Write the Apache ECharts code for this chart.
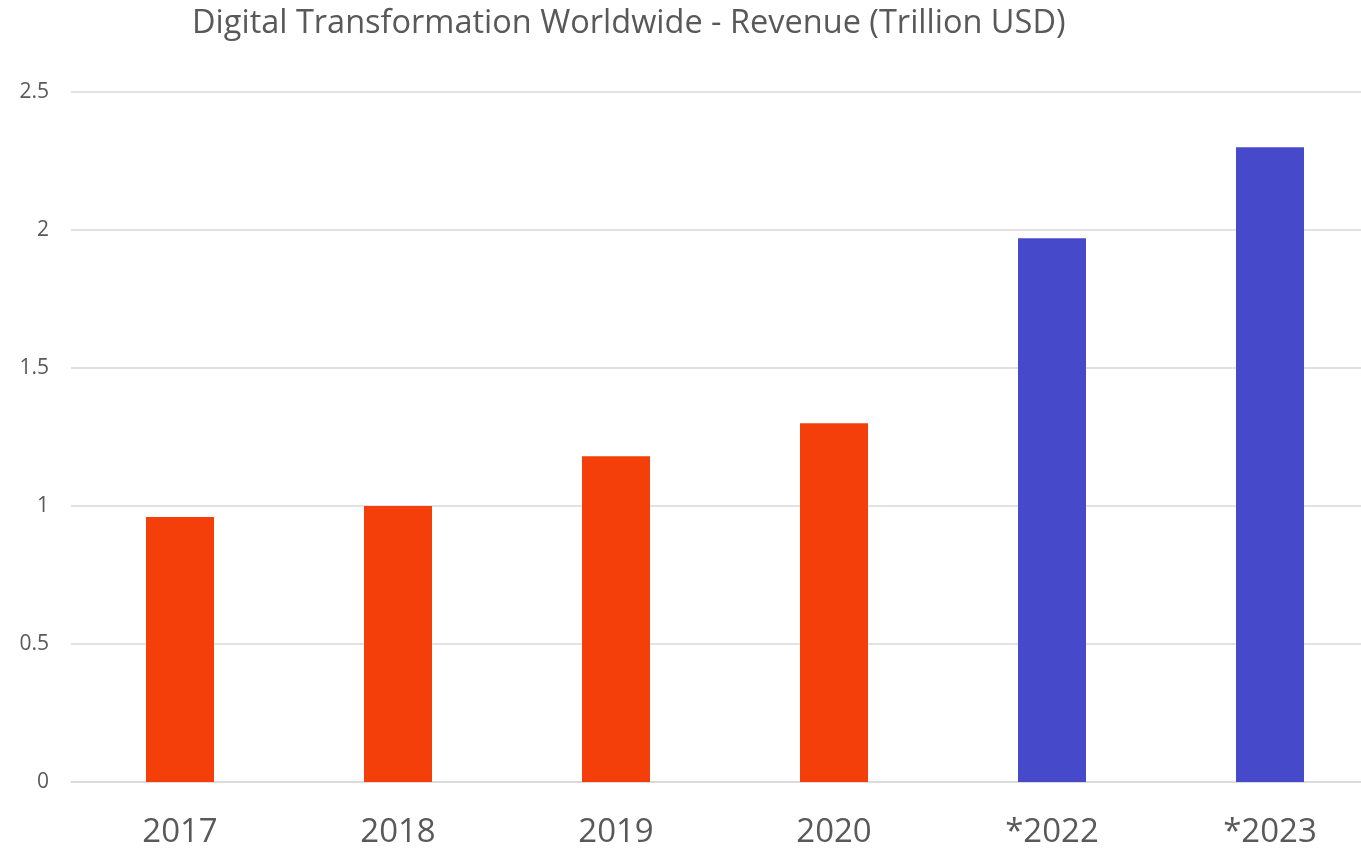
<!DOCTYPE html>
<html>
<head>
<meta charset="utf-8">
<script src="https://cdn.jsdelivr.net/npm/echarts@6/dist/echarts.min.js"></script>
<style>
  html, body { margin: 0; padding: 0; background: #fff; }
  #main { width: 1361px; height: 849px; }
</style>
</head>
<body>
<div id="main"></div>
<script>
// data
var years = ['2017', '2018', '2019', '2020', '*2022', '*2023'];
var revenue = [0.96, 1.0, 1.18, 1.30, 1.97, 2.30];

var chart = echarts.init(document.getElementById('main'));

var option = {
  backgroundColor: '#ffffff',
  title: {
    text: 'Digital Transformation Worldwide - Revenue (Trillion USD)',
    left: 187,
    top: 2,
    textStyle: {
      color: '#595959',
      fontFamily: 'Open Sans',
      fontWeight: 'normal',
      fontSize: 32.5
    }
  },
  grid: {
    left: 71,
    top: 92,
    width: 1308,
    height: 690,
    containLabel: false,
    outerBoundsMode: 'none'
  },
  xAxis: {
    type: 'category',
    data: years,
    axisLine: { show: true, lineStyle: { color: '#d9d9d9', width: 1.5 } },
    axisTick: { show: false },
    axisLabel: {
      color: '#595959',
      fontFamily: 'Open Sans',
      fontSize: 33,
      margin: 34
    }
  },
  yAxis: {
    type: 'value',
    min: 0,
    max: 2.5,
    interval: 0.5,
    axisLine: { show: false },
    axisTick: { show: false },
    splitLine: { lineStyle: { color: '#d9d9d9', width: 1.5 } },
    axisLabel: {
      color: '#595959',
      fontFamily: 'Open Sans',
      fontSize: 21,
      margin: 22
    }
  },
  series: [{
    type: 'bar',
    data: revenue,
    barWidth: 68,
    itemStyle: {
      // projected years (marked with *) are drawn in blue
      color: function (p) {
        return p.name.charAt(0) === '*' ? '#4749cb' : '#f43f0b';
      }
    }
  }]
};

chart.setOption(option);
</script>
</body>
</html>
